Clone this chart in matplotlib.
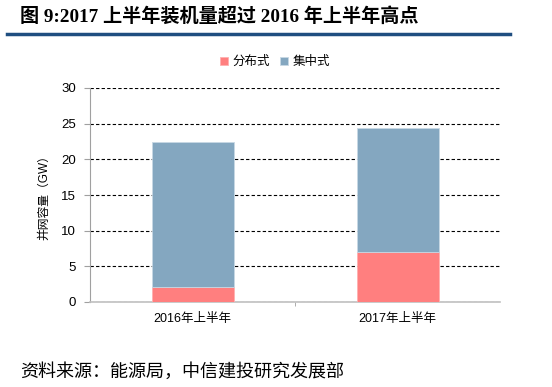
import matplotlib
matplotlib.use("Agg")
import matplotlib.pyplot as plt
import numpy as np

plt.rcParams['font.family'] = ['Liberation Sans', 'Noto Sans CJK SC', 'DejaVu Sans']

categories = ['2016年上半年', '2017年上半年']
distributed = [2.1, 7.0]
centralized = [20.3, 17.4]
series_names = ['分布式', '集中式']
yticks = [0, 5, 10, 15, 20, 25, 30]

fig = plt.figure(figsize=(5.52, 3.87), dpi=100)
ax = fig.add_axes([90/552, 1-302/387, 410/552, 214/387])

x = np.arange(len(categories))
c_red = '#FF7F7F'
c_blue = '#84A7C0'
ax.bar(x, distributed, width=0.4, color=c_red, edgecolor='#FFB0B0', linewidth=0.6,
       label=series_names[0], zorder=3)
ax.bar(x, centralized, bottom=distributed, width=0.4, color=c_blue, edgecolor='#C8D8E4',
       linewidth=0.6, label=series_names[1], zorder=3)

ax.set_xlim(-0.5, 1.5)
ax.set_ylim(0, 30)
ax.set_yticks(yticks)
ax.set_xticks(x)
ax.set_xticklabels(categories, fontsize=9)
ax.tick_params(axis='y', labelsize=9.5, length=4, color='#A0A0A0', pad=6)
ax.tick_params(axis='x', length=0, pad=8)
ax.set_xticks([0.5], minor=True)
ax.tick_params(axis='x', which='minor', length=3, color='#A0A0A0')
ax.yaxis.grid(True, linestyle=(0, (3, 2)), color='black', linewidth=0.8, zorder=0)
for s in ['top', 'right']:
    ax.spines[s].set_visible(False)
ax.spines['left'].set_color('#A0A0A0')
ax.spines['bottom'].set_color('#C0C0C0')
ax.spines['bottom'].set_linewidth(1.2)
ax.set_ylabel('并网容量（GW）', fontsize=8.5, labelpad=8)

leg = fig.legend(loc='center', bbox_to_anchor=(275/552, 1-62/387), ncol=2, frameon=False,
                 fontsize=9, handlelength=0.6, handleheight=0.6, handletextpad=0.4,
                 columnspacing=0.8)

fig.text(20/552, 1-17/387, '图 9:2017 上半年装机量超过 2016 年上半年高点', fontsize=13.8,
         fontweight='bold', va='center', ha='left',
         family=['Liberation Serif', 'Noto Sans CJK SC', 'DejaVu Sans'])
fig.add_artist(plt.Line2D([7/552, 510/552], [1-34/387, 1-34/387], color='#1F4E80',
                          linewidth=2.5, transform=fig.transFigure))
fig.text(20/552, 1-372/387, '资料来源：能源局，中信建投研究发展部', fontsize=13,
         style='italic', va='center', ha='left')

fig.savefig('out.png', dpi=100)
